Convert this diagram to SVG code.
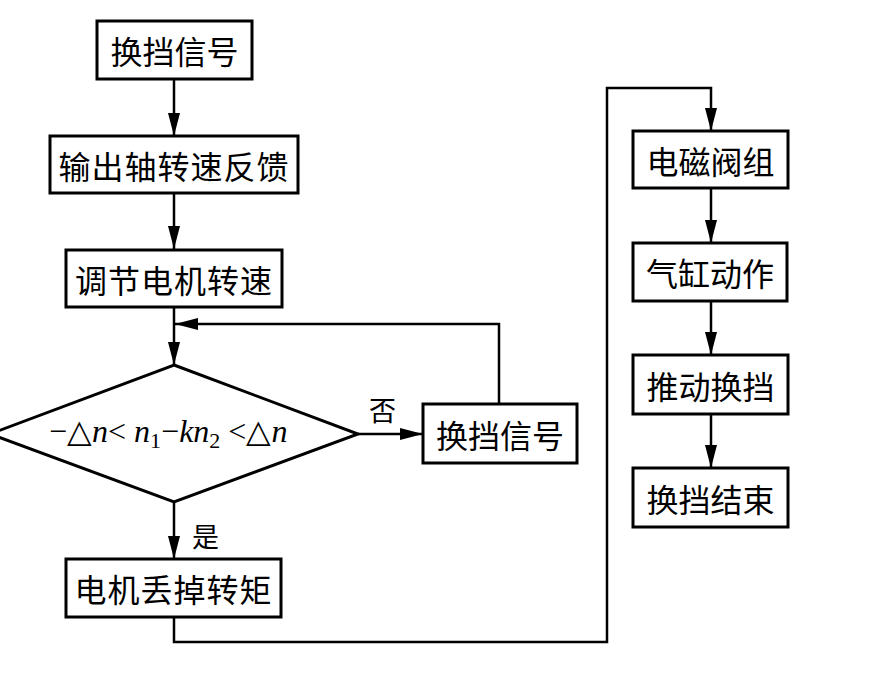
<svg xmlns="http://www.w3.org/2000/svg" width="880" height="676" viewBox="0 0 880 676">
<defs>
<marker id="ah" markerWidth="24" markerHeight="12" refX="23" refY="6" orient="auto" markerUnits="userSpaceOnUse">
<path d="M0,0 L23,6 L0,12 Z" fill="#000"/>
</marker>
<style>
.box{fill:#fff;stroke:#000;stroke-width:3}
.lbl{font-family:"Noto Sans CJK SC","Noto Sans",sans-serif;font-size:32px;fill:#000;text-anchor:middle;dominant-baseline:central}
.sm{font-family:"Noto Sans CJK SC","Noto Sans",sans-serif;font-size:27px;fill:#000}
.ln{fill:none;stroke:#000;stroke-width:2.5}
.f{font-family:"Liberation Serif",serif;font-size:32px;fill:#000}
</style>
</defs>
<rect width="880" height="676" fill="#fff"/>
<g id="connectors">
<path class="ln" d="M174,79 V136" marker-end="url(#ah)"/>
<path class="ln" d="M174,193 V249" marker-end="url(#ah)"/>
<path class="ln" d="M174,307 V365" marker-end="url(#ah)"/>
<path class="ln" d="M499,404 V324 H175" marker-end="url(#ah)"/>
<path class="ln" d="M358,434 H423" marker-end="url(#ah)"/>
<path class="ln" d="M174,502 V559" marker-end="url(#ah)"/>
<path class="ln" d="M174,617 V642 H607 V88 H711 V131" marker-end="url(#ah)"/>
<path class="ln" d="M711,188 V243" marker-end="url(#ah)"/>
<path class="ln" d="M711,301 V355" marker-end="url(#ah)"/>
<path class="ln" d="M711,414 V468" marker-end="url(#ah)"/>
<text class="sm" x="369" y="421">否</text>
<text class="sm" x="192" y="547">是</text>
</g>
<g id="n1"><rect class="box" x="97" y="21" width="155" height="58"/><text class="lbl" x="174.5" y="50">换挡信号</text></g>
<g id="n2"><rect class="box" x="50" y="136" width="248" height="57"/><text class="lbl" x="174" y="164.5" letter-spacing="1">输出轴转速反馈</text></g>
<g id="n3"><rect class="box" x="66" y="250" width="216" height="57"/><text class="lbl" x="174" y="278.5" letter-spacing="1">调节电机转速</text></g>
<g id="n4"><path class="box" d="M174,365 L358,434 L174,502 L-10,434 Z"/>
<text class="f" x="49" y="442">−△<tspan font-style="italic">n</tspan>&lt; <tspan font-style="italic">n</tspan><tspan font-size="22" dy="6">1</tspan><tspan dy="-6">−</tspan><tspan font-style="italic">kn</tspan><tspan font-size="22" dy="6">2</tspan><tspan dy="-6"> &lt;△</tspan><tspan font-style="italic">n</tspan></text></g>
<g id="n5"><rect class="box" x="423" y="404" width="154" height="59"/><text class="lbl" x="500" y="433.5">换挡信号</text></g>
<g id="n6"><rect class="box" x="66" y="559" width="215" height="58"/><text class="lbl" x="173.5" y="588" letter-spacing="1">电机丢掉转矩</text></g>
<g id="n7"><rect class="box" x="633" y="131" width="155" height="57"/><text class="lbl" x="710.5" y="159.5">电磁阀组</text></g>
<g id="n8"><rect class="box" x="633" y="243" width="154" height="58"/><text class="lbl" x="710" y="272">气缸动作</text></g>
<g id="n9"><rect class="box" x="633" y="355" width="155" height="59"/><text class="lbl" x="710.5" y="384.5">推动换挡</text></g>
<g id="n10"><rect class="box" x="633" y="468" width="155" height="59"/><text class="lbl" x="710.5" y="497.5">换挡结束</text></g>
</svg>
